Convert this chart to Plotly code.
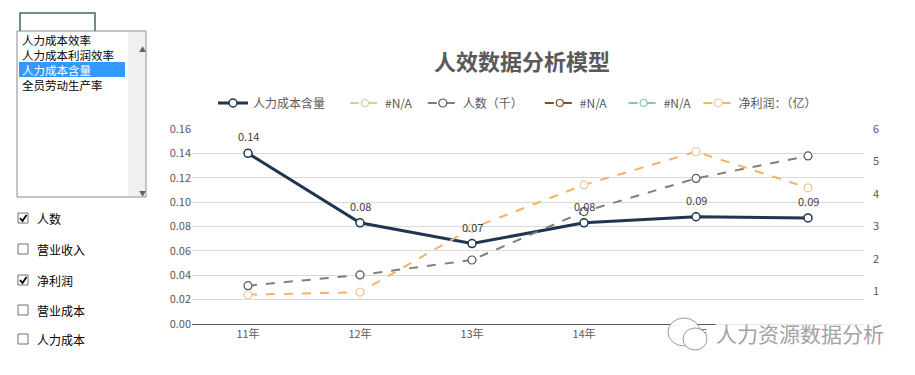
import plotly.graph_objects as go

categories = ["11年", "12年", "13年", "14年", "15年", "16年"]
cost_content = [0.140, 0.083, 0.066, 0.083, 0.088, 0.087]      # 人力成本含量 (left axis)
headcount = [1.18, 1.51, 1.97, 3.46, 4.48, 5.17]                 # 人数（千） (right axis)
net_profit = [0.90, 0.98, 2.95, 4.28, 5.30, 4.19]                # 净利润：（亿） (right axis)
na_series = [None] * 6
left_ticks = [0.00, 0.02, 0.04, 0.06, 0.08, 0.10, 0.12, 0.14, 0.16]
right_ticks = [0, 1, 2, 3, 4, 5, 6]
list_items = ["人力成本效率", "人力成本利润效率", "人力成本含量", "全员劳动生产率"]
check_items = ["人数", "营业收入", "净利润", "营业成本", "人力成本"]
check_state = [True, False, True, False, False]

FONT = "Noto Sans CJK SC, Microsoft YaHei, sans-serif"
OFF = 8                      # page body margin
W, H = 915 - 2 * OFF, 375 - 2 * OFF
# plot area in reference-page pixels: x 192..864, y 129..324
L, T = 192 - OFF, 129 - OFF
R, B = W - (864 - OFF), H - (324 - OFF)
PW, PH = W - L - R, H - T - B


def px(x):
    return (x - OFF - L) / PW


def py(y):
    return (H - B - (y - OFF)) / PH


fig = go.Figure()

fig.add_trace(go.Scatter(
    x=categories, y=cost_content, name="人力成本含量\u2003\u2005", mode="lines+markers",
    line=dict(color="#1F3550", width=3),
    marker=dict(symbol="circle", size=8, color="white", line=dict(color="#1F3550", width=1.5)),
))
fig.add_trace(go.Scatter(
    x=categories, y=na_series, name="#N/A\u2002", mode="lines+markers", yaxis="y2",
    line=dict(color="#C9D79F", width=2, dash="dash"),
    marker=dict(size=7, color="white", line=dict(color="#C9D79F", width=1.2)),
))
fig.add_trace(go.Scatter(
    x=categories, y=headcount, name="人数（千）\u2003", mode="lines+markers", yaxis="y2",
    line=dict(color="#7F7F7F", width=2, dash="dash"),
    marker=dict(size=8, color="white", line=dict(color="#595959", width=1.2)),
))
fig.add_trace(go.Scatter(
    x=categories, y=na_series, name="#N/A\u2003", mode="lines+markers", yaxis="y2",
    line=dict(color="#8B4A1C", width=2, dash="dash"),
    marker=dict(size=7, color="white", line=dict(color="#8B4A1C", width=1.2)),
))
fig.add_trace(go.Scatter(
    x=categories, y=na_series, name="#N/A\u2005", mode="lines+markers", yaxis="y2",
    line=dict(color="#8CC1C4", width=2, dash="dash"),
    marker=dict(size=7, color="white", line=dict(color="#8CC1C4", width=1.2)),
))
fig.add_trace(go.Scatter(
    x=categories, y=net_profit, name="净利润：（亿）", mode="lines+markers", yaxis="y2",
    line=dict(color="#F2B46A", width=2, dash="dash"),
    marker=dict(size=8, color="white", line=dict(color="#F2C89A", width=1.2)),
))

shapes = []
annotations = []

# data labels above the 人力成本含量 points
for c, v in zip(categories, cost_content):
    annotations.append(dict(x=c, y=v, xref="x", yref="y", text=f"{v:.2f}", showarrow=False,
                            yshift=17, font=dict(size=11, color="#404040", family=FONT)))

# small text box above list box
shapes.append(dict(type="rect", xref="paper", yref="paper",
                   x0=px(20), x1=px(95), y0=py(32), y1=py(13),
                   line=dict(color="#3E6B50", width=1.5), fillcolor="white"))
# list box
shapes.append(dict(type="rect", xref="paper", yref="paper",
                   x0=px(17), x1=px(146), y0=py(197), y1=py(31),
                   line=dict(color="#8A8A8A", width=1), fillcolor="white"))
# scrollbar
shapes.append(dict(type="rect", xref="paper", yref="paper",
                   x0=px(128), x1=px(145), y0=py(196), y1=py(32),
                   line=dict(width=0), fillcolor="#F0F0F0"))
# selected highlight
shapes.append(dict(type="rect", xref="paper", yref="paper",
                   x0=px(19), x1=px(125), y0=py(77), y1=py(62),
                   line=dict(width=0), fillcolor="#3399FF"))
annotations.append(dict(xref="paper", yref="paper", x=px(137), y=py(42), text="▲",
                        showarrow=False, font=dict(size=7, color="#606060")))
annotations.append(dict(xref="paper", yref="paper", x=px(137), y=py(186), text="▼",
                        showarrow=False, font=dict(size=7, color="#606060")))
for i, item in enumerate(list_items):
    yy = 40 + i * 15
    annotations.append(dict(xref="paper", yref="paper", x=px(21), y=py(yy), text=item,
                            xanchor="left", yanchor="middle", showarrow=False, borderpad=0,
                            font=dict(size=11.5, family=FONT,
                                      color="white" if i == 2 else "#000000")))

# checkboxes
for i, (item, st) in enumerate(zip(check_items, check_state)):
    yc = [218, 249, 280, 310, 339][i]
    shapes.append(dict(type="rect", xref="paper", yref="paper",
                       x0=px(18), x1=px(28), y0=py(yc + 5), y1=py(yc - 5),
                       line=dict(color="#707070", width=1), fillcolor="white"))
    if st:
        shapes.append(dict(type="path", xref="paper", yref="paper",
                           path=f"M {px(20)} {py(yc)} L {px(22.5)} {py(yc + 3)} L {px(26.5)} {py(yc - 3)}",
                           line=dict(color="#000000", width=1.8)))
    annotations.append(dict(xref="paper", yref="paper", x=px(35), y=py(yc), text=item,
                            xanchor="left", yanchor="middle", showarrow=False,
                            font=dict(size=12, family=FONT, color="#000000")))

# watermark
shapes.append(dict(type="circle", xref="paper", yref="paper",
                   x0=px(668), x1=px(700), y0=py(346), y1=py(318),
                   line=dict(color="#9A9A9A", width=1), fillcolor="white"))
shapes.append(dict(type="circle", xref="paper", yref="paper",
                   x0=px(683), x1=px(707), y0=py(350), y1=py(328),
                   line=dict(color="#9A9A9A", width=1), fillcolor="white"))
annotations.append(dict(xref="paper", yref="paper", x=px(800), y=py(333),
                        text="人力资源数据分析", showarrow=False, xanchor="center", yanchor="middle",
                        bgcolor="rgba(255,255,255,0.85)", borderpad=0,
                        font=dict(size=21, family=FONT, color="#A3A3A3")))

fig.update_layout(
    width=W, height=H,
    margin=dict(l=L, r=R, t=T, b=B, autoexpand=False),
    paper_bgcolor="white", plot_bgcolor="white",
    font=dict(family=FONT, color="#595959", size=11),
    title=dict(text="<b>人效数据分析模型</b>", x=(522 - OFF) / W, xref="container", xanchor="center",
               y=1 - (62 - OFF) / H, yref="container", yanchor="middle",
               font=dict(size=22, color="#595959", family=FONT)),
    showlegend=True,
    legend=dict(orientation="h", x=px(213), xanchor="left", y=py(103), yanchor="middle",
                font=dict(size=12, color="#595959", family=FONT),
                itemwidth=30, tracegroupgap=0, bgcolor="rgba(0,0,0,0)"),
    xaxis=dict(type="category", categoryorder="array", categoryarray=categories,
               showgrid=False, showline=True, linecolor="#595959", linewidth=1.2,
               ticks="", tickfont=dict(size=11, color="#595959"), range=[-0.5, 5.5],
               fixedrange=True),
    yaxis=dict(range=[0, 0.16], tickvals=left_ticks, tickformat=".2f",
               showgrid=True, gridcolor="#D9D9D9", gridwidth=1, zeroline=False,
               tickfont=dict(size=11, color="#595959"), ticks="", ticklen=0),
    yaxis2=dict(range=[0, 6], tickvals=right_ticks, overlaying="y", side="right",
                showgrid=False, zeroline=False, tickfont=dict(size=11, color="#595959"),
                ticks="", ticklabelstandoff=8),
    shapes=shapes, annotations=annotations,
)

fig.write_html("out.html")
